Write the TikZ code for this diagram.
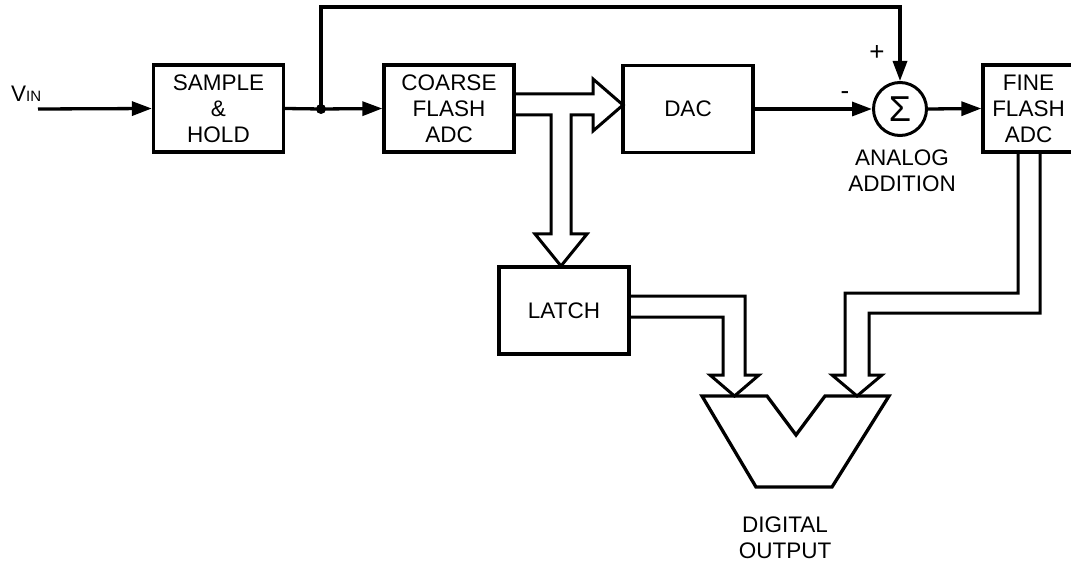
\documentclass[tikz,border=0pt]{standalone}
\usepackage{fontspec}
\setmainfont{Liberation Sans}
\usetikzlibrary{arrows.meta}
\begin{document}
\begin{tikzpicture}[x=1pt,y=-1pt,
  every node/.style={font=\fontsize{22.5}{26}\selectfont, align=center, inner sep=0pt},
  blk/.style={draw, line width=3.3pt, minimum width=130pt, minimum height=87pt},
  sig/.style={-{Triangle[length=20pt,width=14pt]}, line width=3.3pt},
  wire/.style={line width=3.3pt},
  bus/.style={draw, line width=3pt, line join=miter},
]
\useasboundingbox (0,0) rectangle (1071,564);
\clip (0,0) rectangle (1071,564);
% blocks
\node[blk] (sh) at (218.5,108.5) {SAMPLE\\\&\\HOLD};
\node[blk] (coarse) at (449,108.5) {COARSE\\FLASH\\ADC};
\node[blk] (dac) at (688,109) {DAC};
\node[blk, minimum width=91pt] (fine) at (1028.5,108.5) {FINE\\FLASH\\ADC};
\node[blk] (latch) at (564,310.5) {LATCH};
\node[circle, draw, line width=3pt, minimum size=53pt, font=\fontsize{36}{36}\selectfont] (sigma) at (900,109) {Σ};
% coordinates
\coordinate (vin) at (38,109);
\coordinate (j) at (321,109);
\coordinate (top) at (321,7);
% labels
\node[anchor=base west] (vinlabel) at (11,102) {V{\fontsize{15}{15}\selectfont IN}};
\node[font=\fontsize{26}{26}\selectfont] (plus) at (877,53) {+};
\node[font=\fontsize{26}{26}\selectfont] (minus) at (845,96) {-};
\node (addlabel) at (902,170.5) {ANALOG\\ADDITION};
\node (dolabel) at (785,537.5) {DIGITAL\\OUTPUT};
% signal connectors
\draw[sig] (vin) -- (sh.west);
\draw[wire] (sh.east) -- (j);
\draw[sig] (j) -- (coarse.west);
\draw[sig] (j) -- (top) -| (sigma.north);
\fill (j) circle (5pt);
\draw[sig] (dac.east) -- (sigma.west);
\draw[sig] (sigma.east) -- (fine.west);
% buses
\draw[bus] (514,94) -- (593,94) -- (593,79) -- (623,105) -- (593,131) -- (593,115) -- (571,115) -- (571,234) -- (587,234) -- (561,266) -- (535,234) -- (551,234) -- (551,115) -- (514,115);
\draw[bus] (629,296) -- (745,296) -- (745,375) -- (759,375) -- (734.5,396) -- (710,375) -- (723,375) -- (723,317) -- (629,317);
\draw[bus] (1018,152) -- (1018,293) -- (845,293) -- (845,375) -- (832,375) -- (857,396) -- (882,375) -- (869,375) -- (869,313) -- (1040,313) -- (1040,152);
% digital output combiner
\draw[line width=3.3pt, line join=miter] (702,396) -- (767,396) -- (796,435) -- (825,396) -- (889,396) -- (832,487) -- (756,487) -- cycle;
\end{tikzpicture}
\end{document}
